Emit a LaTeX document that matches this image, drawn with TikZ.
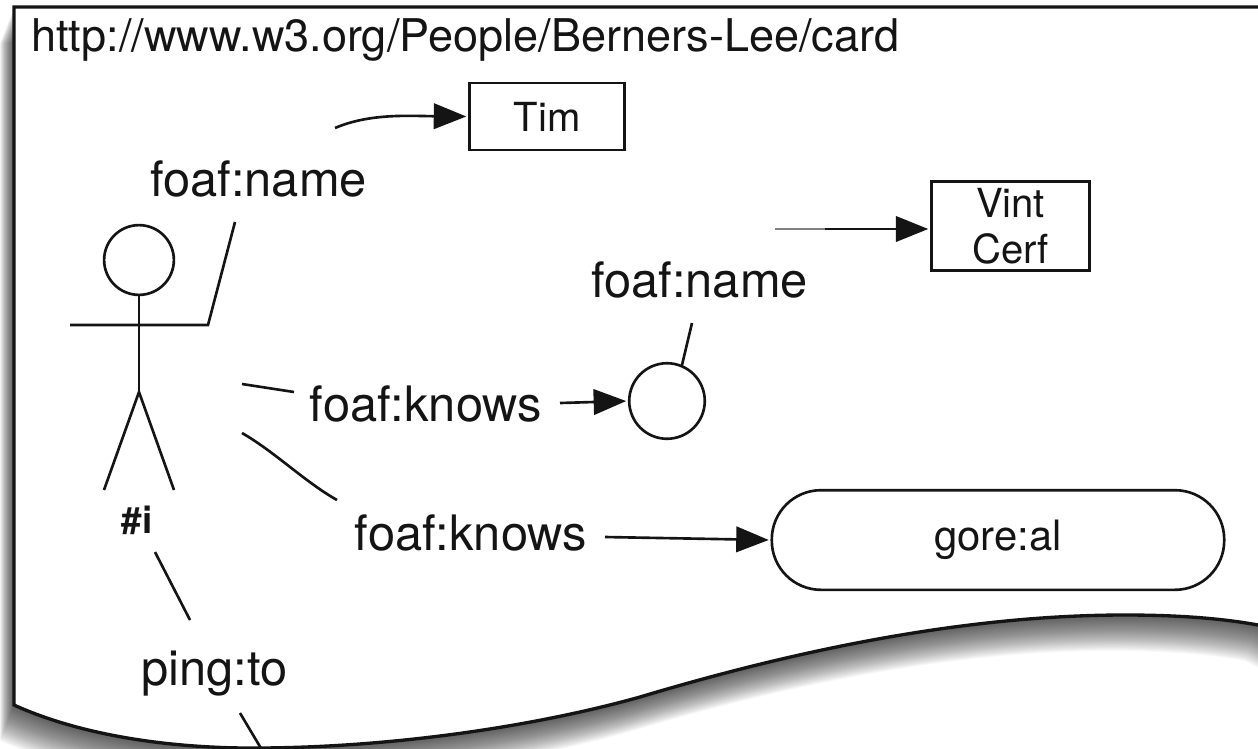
\documentclass[tikz,border=0pt]{standalone}
\usepackage{fontspec}
\setmainfont{TeX Gyre Heros}
\usetikzlibrary{arrows.meta, positioning, calc}

\definecolor{inkblack}{RGB}{20, 20, 20}

\tikzset{
  termlabel/.style={font=\fontsize{27.8pt}{30pt}\selectfont, inner sep=0pt, text=inkblack},
  valuelabel/.style={font=\fontsize{22.8pt}{26pt}\selectfont, align=center, text=inkblack},
  stroke/.style={line width=1.5pt, inkblack},
  tiparrow/.style={stroke, -{Triangle[length=18.5pt, width=14.5pt]}, shorten >=1pt},
}
\newcommand{\pagepath}{(14,7) -- (1290,7) -- (1290,640) -- (1258,625)
  .. controls (1220,618) and (1175,615) .. (1125,615)
  .. controls (990,615) and (830,640) .. (640,697)
  .. controls (540,725) and (400,747) .. (262,748)
  .. controls (170,749) and (80,735) .. (14,705) -- cycle}

\begin{document}
\begin{tikzpicture}[x=0.02cm, y=-0.02cm]
  \useasboundingbox (0,0) rectangle (1258,748);
  \clip (0,0) rectangle (1258,748);

  % page with its shadow
  \foreach \i in {1,...,40} {
    \fill[black, opacity=0.025, shift={(-\i*0.35,\i*0.9)}] \pagepath;
  }
  \draw[line width=1.9pt, inkblack, fill=white] \pagepath;

  % document address
  \node[font=\fontsize{25.65pt}{28pt}\selectfont, inner sep=0pt, anchor=west, text=inkblack] (addr) at (31, 40) {http://www.w3.org/People/Berners-Lee/card};

  % person #i
  \node[draw, stroke, circle, minimum size=39.7pt, inner sep=0pt] (head) at (139, 260) {};
  \coordinate (hip) at (139, 392);
  \coordinate (armleft) at (70, 325);
  \coordinate (hand) at (208, 325);
  \coordinate (handtop) at (235, 222);
  \draw[stroke] (head) -- (hip);
  \draw[stroke] (armleft) -- (hand) -- (handtop);
  \coordinate (footleft) at (104, 490);
  \coordinate (footright) at (174, 490);
  \draw[stroke] (footleft) -- (hip) -- (footright);
  \node[font=\bfseries\fontsize{21pt}{24pt}\selectfont, inner sep=0pt, text=inkblack] (me) at (137, 520) {\#i};

  % values
  \node[draw, stroke, valuelabel, minimum width=88.4pt, minimum height=38pt, inner sep=0pt] (tim) at (547, 116.5) {Tim};
  \node[draw, stroke, valuelabel, minimum width=90.1pt, minimum height=51pt, inner sep=0pt] (vint) at (1010.5, 226) {Vint\\Cerf};
  \node[draw, stroke, circle, minimum size=43pt, inner sep=0pt] (friend) at (667, 401) {};
  \node[draw, stroke, valuelabel, font=\fontsize{23.8pt}{26pt}\selectfont, rounded corners=28pt, minimum width=257.5pt, minimum height=56.7pt, inner sep=0pt] (gore) at (998, 540) {gore:al};

  % property labels
  \node[termlabel] (name1) at (258.5, 179) {foaf:name};
  \node[termlabel] (name2) at (699.5, 280) {foaf:name};
  \node[termlabel] (knows1) at (426, 404) {foaf:knows};
  \node[termlabel] (knows2) at (471, 533) {foaf:knows};
  \node[termlabel] (pingto) at (214.5, 674) {ping:to};

  % Arrows
  \coordinate (namestart) at (335, 128);
  \draw[tiparrow] (namestart) .. controls (370,113) and (410,116) .. (tim.west);
  \coordinate (vintstart) at (775, 229);
  \coordinate (vintmid) at (825, 229);
  \draw[line width=0.7pt, black!50] (vintstart) -- (vintmid);
  \draw[tiparrow] (vintmid) -- (vint.west |- vintmid);
  \coordinate (stemtop) at (692, 323);
  \coordinate (stembottom) at (682, 365);
  \draw[stroke] (stemtop) -- (stembottom);
  \coordinate (knowsa) at (242, 384);
  \coordinate (knowsb) at (294, 392);
  \draw[stroke] (knowsa) -- (knowsb);
  \coordinate (knowsc) at (560, 403);
  \draw[tiparrow] (knowsc) -- (friend.west);
  \coordinate (goreb) at (242, 433);
  \coordinate (gorec) at (337, 500);
  \draw[stroke] (goreb) .. controls (275,452) and (305,482) .. (gorec);
  \coordinate (gored) at (605, 537);
  \draw[tiparrow] (gored) -- (gore.west);
  \coordinate (pinga) at (155, 552);
  \coordinate (pingb) at (190, 620);
  \draw[stroke] (pinga) -- (pingb);
  \coordinate (pingc) at (240, 713);
  \coordinate (pingd) at (262, 750);
  \draw[stroke] (pingc) -- (pingd);
\end{tikzpicture}
\end{document}
